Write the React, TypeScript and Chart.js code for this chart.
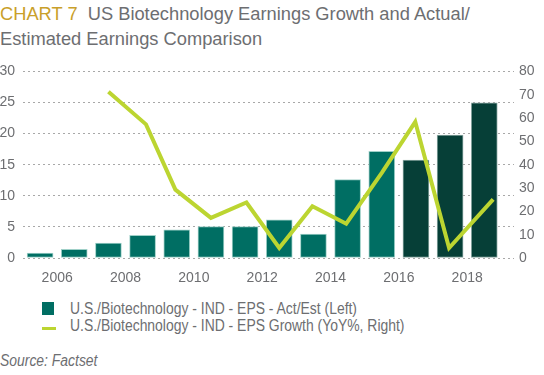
import React, { useEffect, useRef } from "react";
import { Chart, registerables } from "chart.js";

Chart.register(...registerables);

const barYears = [2005.5, 2006.5, 2007.5, 2008.5, 2009.5, 2010.5, 2011.5, 2012.5, 2013.5, 2014.5, 2015.5, 2016.5, 2017.5, 2018.5];
const epsValues = [0.78, 1.4, 2.39, 3.63, 4.52, 5.04, 5.04, 6.13, 3.84, 12.6, 17.16, 15.76, 19.75, 24.96];
const estimateFlags = [false, false, false, false, false, false, false, false, false, false, false, true, true, true];
const growthYears = [2007.5, 2008.6, 2009.46, 2010.5, 2011.54, 2012.5, 2013.47, 2014.46, 2015.5, 2016.48, 2017.47, 2018.76];
const growthValues = [71.3, 57.3, 29.3, 17.2, 23.8, 4.3, 22.2, 14.7, 36.5, 58.4, 4.3, 25.1];
const xTickYears = [2006, 2008, 2010, 2012, 2014, 2016, 2018];

const FONT = "'Liberation Sans', Arial, sans-serif";
const GRAY = "#6d6e71";

const narrow: React.CSSProperties = {
  position: "absolute",
  fontSize: 16,
  lineHeight: "18px",
  whiteSpace: "nowrap",
  transform: "scaleX(0.87)",
  transformOrigin: "0 0",
};

export default function App() {
  const ref = useRef<HTMLCanvasElement | null>(null);

  useEffect(() => {
    document.body.style.margin = "0";
    const ctx = ref.current!;
    const chart = new Chart(ctx, {
      data: {
        datasets: [
          {
            type: "line",
            label: "U.S./Biotechnology - IND - EPS Growth (YoY%, Right)",
            data: growthYears.map((x, i) => ({ x, y: growthValues[i] })),
            borderColor: "#bcd531",
            borderWidth: 4,
            pointRadius: 0,
            tension: 0,
            yAxisID: "y1",
            order: 0,
          },
          {
            type: "bar",
            label: "U.S./Biotechnology - IND - EPS - Act/Est (Left)",
            data: barYears.map((x, i) => ({ x, y: epsValues[i] })),
            backgroundColor: estimateFlags.map((e) => (e ? "#063f37" : "#006e63")),
            borderColor: estimateFlags.map((e) => (e ? "#8aa7a2" : "#9fd0c8")),
            borderWidth: 1,
            borderSkipped: false,
            barThickness: 26,
            yAxisID: "y",
            order: 1,
          },
        ],
      },
      options: {
        animation: false,
        responsive: false,
        maintainAspectRatio: false,
        layout: { padding: { top: 11, left: 0, right: 0, bottom: 0 } },
        plugins: { legend: { display: false }, tooltip: { enabled: false } },
        scales: {
          x: {
            type: "linear",
            min: 2005,
            max: 2019.37,
            offset: false,
            grid: { display: false, drawTicks: false },
            border: { display: false },
            afterBuildTicks: (axis: any) => {
              axis.ticks = xTickYears.map((v) => ({ value: v }));
            },
            afterFit: (axis: any) => {
              axis.height = 37;
            },
            ticks: {
              autoSkip: false,
              maxRotation: 0,
              padding: 12,
              color: GRAY,
              font: { family: FONT, size: 14 },
              callback: (v: any) => String(v),
            },
          },
          y: {
            position: "left",
            min: 0,
            max: 30,
            grid: { color: "#a8a8a8", lineWidth: 1, drawTicks: false },
            border: { display: false, dash: [2, 3] },
            afterFit: (axis: any) => {
              axis.width = 23;
            },
            ticks: {
              stepSize: 5,
              padding: 8,
              color: GRAY,
              font: { family: FONT, size: 14 },
            },
          },
          y1: {
            position: "right",
            min: 0,
            max: 80,
            grid: { display: false, drawTicks: false },
            border: { display: false },
            afterFit: (axis: any) => {
              axis.width = 30;
            },
            ticks: {
              stepSize: 10,
              padding: 5,
              color: GRAY,
              font: { family: FONT, size: 14 },
            },
          },
        },
      } as any,
    });
    return () => chart.destroy();
  }, []);

  return (
    <div style={{ position: "relative", width: 544, height: 375, fontFamily: FONT, color: GRAY, overflow: "hidden" }}>
      <div
        style={{
          position: "absolute",
          left: 0,
          top: 1,
          fontSize: 18.3,
          lineHeight: "25px",
          color: GRAY,
          whiteSpace: "nowrap",
        }}
      >
        <div>
          <span style={{ color: "#c9a02a" }}>CHART 7</span>
          {"\u00a0\u00a0US Biotechnology Earnings Growth and Actual/"}
        </div>
        <div>Estimated Earnings Comparison</div>
      </div>
      <canvas ref={ref} width={544} height={240} style={{ position: "absolute", left: 0, top: 55, width: 544, height: 240 }} />
      <div style={{ position: "absolute", left: 42, top: 302, width: 12, height: 13, background: "#006e63" }} />
      <div style={{ ...narrow, left: 70, top: 300 }}>U.S./Biotechnology - IND - EPS - Act/Est (Left)</div>
      <div style={{ position: "absolute", left: 42, top: 327, width: 14, height: 3, background: "#bcd531" }} />
      <div style={{ ...narrow, left: 70, top: 316.5 }}>U.S./Biotechnology - IND - EPS Growth (YoY%, Right)</div>
      <div style={{ ...narrow, left: 0, top: 352, fontStyle: "italic" }}>Source: Factset</div>
    </div>
  );
}
